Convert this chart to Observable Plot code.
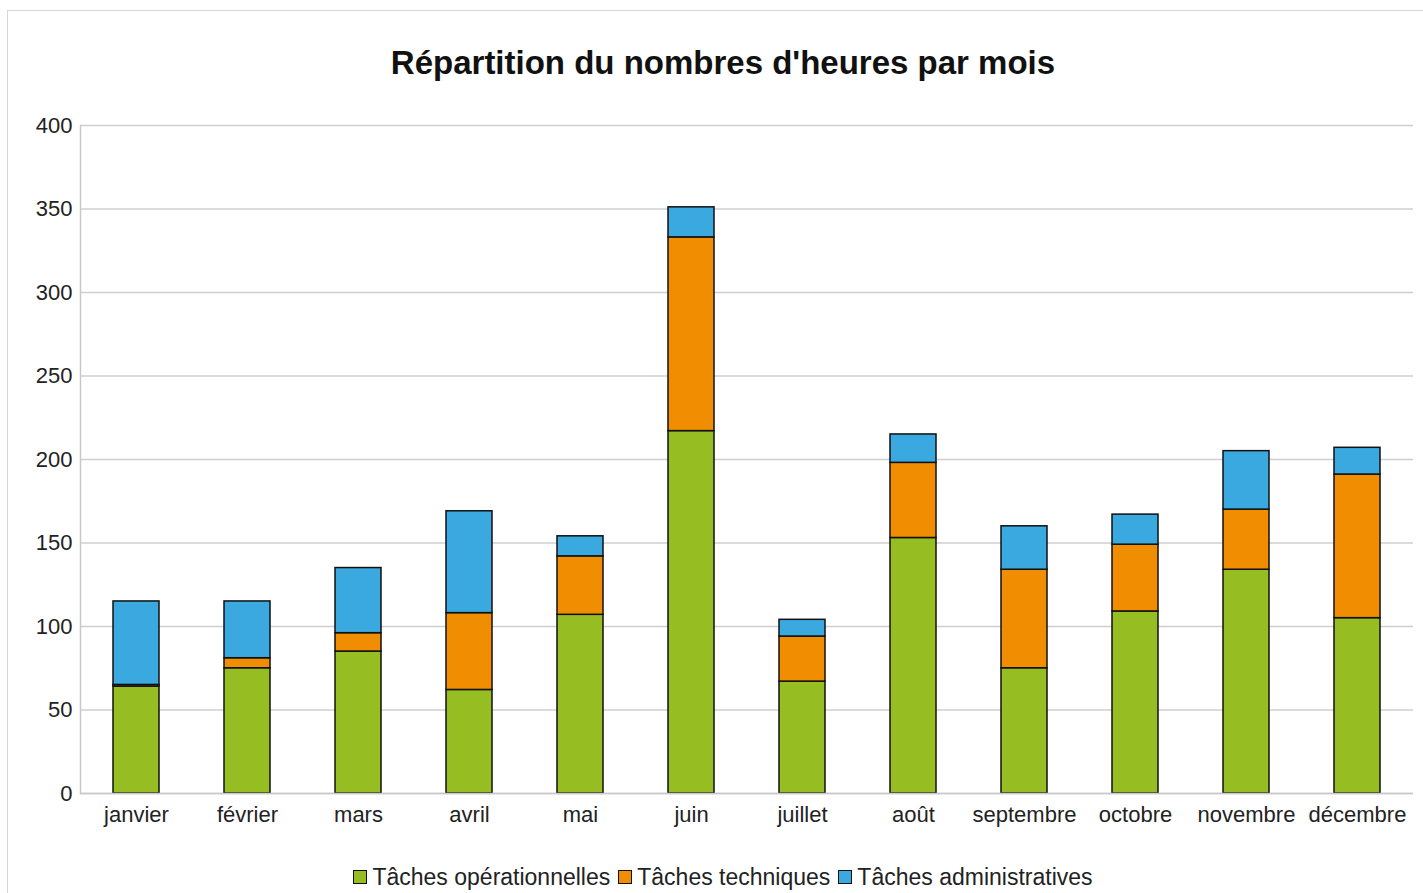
<!DOCTYPE html>
<html>
<head>
<meta charset="utf-8">
<script src="https://cdn.jsdelivr.net/npm/d3@7"></script>
<script src="https://cdn.jsdelivr.net/npm/@observablehq/plot@0.6"></script>
<style>
  html, body { margin: 0; padding: 0; background: #fff; overflow: hidden; width: 1423px; height: 893px; }
  #frame { position: absolute; left: 7px; top: 10px; width: 1500px; height: 1000px; border: 1px solid #d6d6d6; box-sizing: border-box; }
  #title { position: absolute; left: 0; width: 1446px; top: 44px; text-align: center; font-family: "Liberation Sans", Arial, sans-serif; font-weight: bold; font-size: 33px; color: #111; }
  #chart { position: absolute; left: 0; top: 100px; }
  #legend { position: absolute; left: 0; width: 1446px; top: 863px; text-align: center; font-family: "Liberation Sans", Arial, sans-serif; font-size: 23px; color: #222; white-space: nowrap; }
  .item { display: inline-flex; align-items: center; margin: 0 4px; }
  .sw { width: 14px; height: 14px; border: 1.5px solid #111; box-sizing: border-box; margin-right: 5px; display: inline-block; }
</style>
</head>
<body>
<div id="frame"></div>
<div id="title">Répartition du nombres d'heures par mois</div>
<div id="chart"></div>
<div id="legend"></div>
<script>
const months = ["janvier","février","mars","avril","mai","juin","juillet","août","septembre","octobre","novembre","décembre"];
const operationnelles = [64, 75, 85, 62, 107, 217, 67, 153, 75, 109, 134, 105];
const techniques     = [1, 6, 11, 46, 35, 116, 27, 45, 59, 40, 36, 86];
const administratives = [50, 34, 39, 61, 12, 18, 10, 17, 26, 18, 35, 16];
const seriesNames = ["Tâches opérationnelles", "Tâches techniques", "Tâches administratives"];
const seriesColors = ["#96be22", "#f18d00", "#39a9e0"];
const yTicks = [0, 50, 100, 150, 200, 250, 300, 350, 400];

const seriesValues = [operationnelles, techniques, administratives];
const data = [];
seriesNames.forEach((s, i) => months.forEach((m, j) => data.push({month: m, serie: s, value: seriesValues[i][j]})));

const chart = Plot.plot({
  width: 1423,
  height: 733,
  marginLeft: 80,
  marginRight: 10,
  marginTop: 25,
  marginBottom: 40,
  style: { fontFamily: "Liberation Sans, Arial, sans-serif", fontSize: "22px", color: "#222", background: "transparent" },
  x: { domain: months, paddingInner: 0.59, paddingOuter: 0.295, label: null },
  y: { domain: [0, 400], label: null },
  color: { domain: seriesNames, range: seriesColors },
  marks: [
    Plot.gridY(yTicks, { stroke: "#cfcfcf", strokeOpacity: 1, strokeWidth: 1.5 }),
    Plot.frame({ anchor: "left", stroke: "#c8c8c8", strokeWidth: 1.5 }),
    Plot.barY(data, { x: "month", y: "value", fill: "serie", stroke: "#111", strokeWidth: 1.5 }),
    Plot.ruleY([0], { stroke: "#c8c8c8", strokeWidth: 1.5 }),
    Plot.axisY({ ticks: yTicks, tickSize: 0, tickPadding: 8, label: null }),
    Plot.axisX({ tickSize: 0, tickPadding: 13, label: null })
  ]
});
document.getElementById("chart").appendChild(chart);

const legend = document.getElementById("legend");
seriesNames.forEach((s, i) => {
  const item = document.createElement("span");
  item.className = "item";
  const sw = document.createElement("span");
  sw.className = "sw";
  sw.style.background = seriesColors[i];
  item.appendChild(sw);
  item.appendChild(document.createTextNode(s));
  legend.appendChild(item);
});
</script>
</body>
</html>
